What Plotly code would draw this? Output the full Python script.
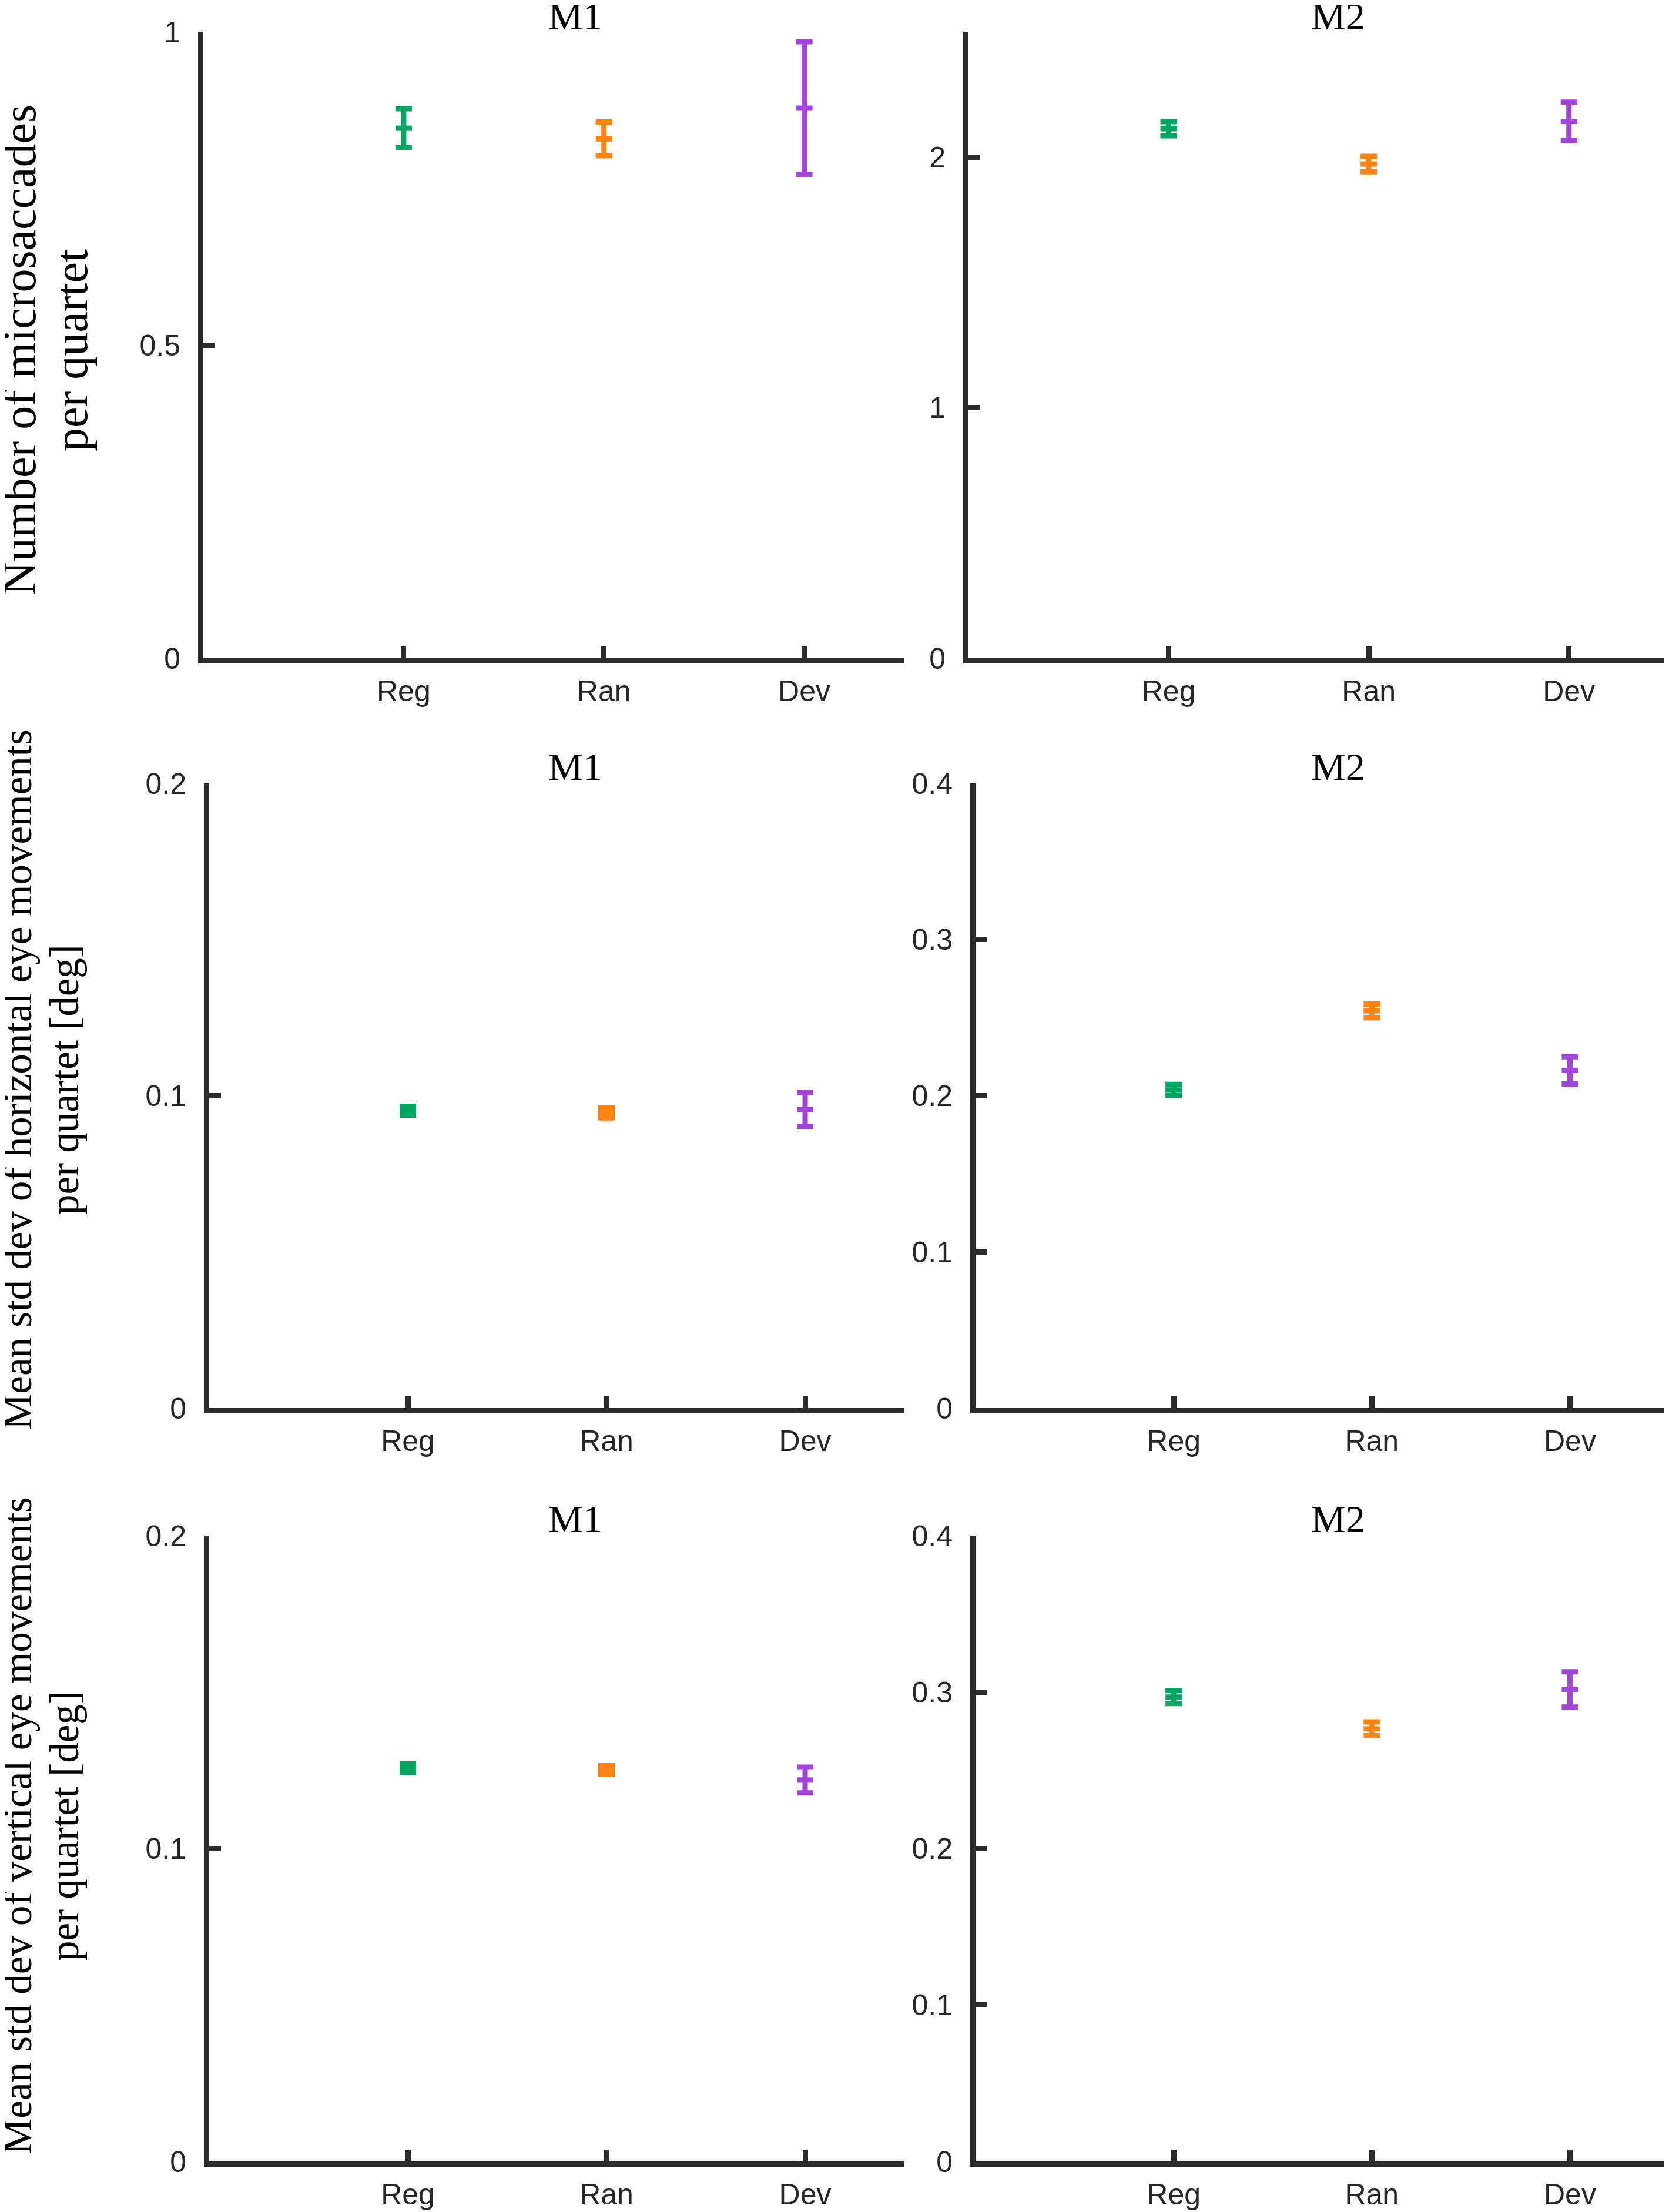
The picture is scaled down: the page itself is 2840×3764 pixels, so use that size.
import plotly.graph_objects as go
from plotly.subplots import make_subplots

W, H = 2840, 3764
PAGE_OFFSET_Y = 8  # default body margin of the html page

CONDITIONS = ['Reg', 'Ran', 'Dev']
COND_X = [1, 2, 3]
COLORS = ['#00a55f', '#ff8412', '#a044dc']

# microsaccades per quartet
msacc_m1_mean = [0.846, 0.829, 0.878]
msacc_m1_err = [0.031, 0.027, 0.106]
msacc_m2_mean = [2.113, 1.972, 2.142]
msacc_m2_err = [0.028, 0.031, 0.077]

# std dev of horizontal eye movements [deg]
horiz_m1_mean = [0.0952, 0.0945, 0.0956]
horiz_m1_err = [0.0014, 0.0016, 0.0054]
horiz_m2_mean = [0.2037, 0.2543, 0.2162]
horiz_m2_err = [0.0035, 0.0044, 0.0087]

# std dev of vertical eye movements [deg]
vert_m1_mean = [0.1257, 0.1251, 0.1219]
vert_m1_err = [0.0014, 0.0014, 0.0041]
vert_m2_mean = [0.2968, 0.2765, 0.3017]
vert_m2_err = [0.0041, 0.0044, 0.0113]

msacc_m1_ticks = [0, 0.5, 1]
msacc_m2_ticks = [0, 1, 2]
std_m1_ticks = [0, 0.1, 0.2]
std_m2_ticks = [0, 0.1, 0.2, 0.3, 0.4]

ylabels = [
    ['Number of microsaccades', 'per quartet'],
    ['Mean std dev of horizontal eye movements', 'per quartet [deg]'],
    ['Mean std dev of vertical eye movements', 'per quartet [deg]'],
]

panels = [
    # row, col, means, errs, yrange, ticks
    (1, 1, msacc_m1_mean, msacc_m1_err, [0, 1], msacc_m1_ticks),
    (1, 2, msacc_m2_mean, msacc_m2_err, [0, 2.5], msacc_m2_ticks),
    (2, 1, horiz_m1_mean, horiz_m1_err, [0, 0.2], std_m1_ticks),
    (2, 2, horiz_m2_mean, horiz_m2_err, [0, 0.4], std_m2_ticks),
    (3, 1, vert_m1_mean, vert_m1_err, [0, 0.2], std_m1_ticks),
    (3, 2, vert_m2_mean, vert_m2_err, [0, 0.4], std_m2_ticks),
]

# pixel layout (screen px) of the axes boxes
col_px = {
    (1, 1): (338, 1531), (1, 2): (1640, 2832),
    (2, 1): (348, 1531), (2, 2): (1652, 2832),
    (3, 1): (348, 1531), (3, 2): (1652, 2832),
}
row_px = {1: (54, 1120), 2: (1333, 2396), 3: (2613, 3678)}
title_bottom_px = {1: 66, 2: 1343, 3: 2623}
title_x_px = {1: 971, 2: 2269}
ylab_x_px = {1: (25, 113), 2: (22, 102), 3: (22, 102)}
ylab_y_px = {1: 596, 2: 1837, 3: 3107}
ylab_size = {1: 80, 2: 69, 3: 69}


def px_x(p):
    return p / W


def px_y(p):
    return 1 - (p - PAGE_OFFSET_Y) / H


AXIS_COLOR = '#2b2b2b'
TICK_FONT = dict(family='Liberation Sans Narrow, Arial Narrow, Liberation Sans, Arial', size=50, color='#262626')
SERIF = 'Liberation Serif, Times New Roman, serif'

fig = make_subplots(rows=3, cols=2)

for row, col, means, errs, yrange, ticks in panels:
    for i in range(len(CONDITIONS)):
        fig.add_trace(
            go.Scatter(
                x=[COND_X[i]],
                y=[means[i]],
                mode='markers',
                marker=dict(symbol='line-ew', size=20, color=COLORS[i],
                            line=dict(width=9, color=COLORS[i])),
                error_y=dict(type='data', array=[errs[i]], visible=True,
                             color=COLORS[i], thickness=9, width=14),
                showlegend=False,
                hoverinfo='skip'
            ),
            row=row, col=col
        )

    left, right = col_px[(row, col)]
    top, bottom = row_px[row]
    fig.update_xaxes(
        domain=[px_x(left), px_x(right)],
        range=[0, 3.5],
        tickvals=COND_X, ticktext=CONDITIONS,
        showline=True, linecolor=AXIS_COLOR, linewidth=9,
        ticks='inside', ticklen=20, tickwidth=9, tickcolor=AXIS_COLOR,
        ticklabelstandoff=4,
        tickfont=TICK_FONT,
        showgrid=False, zeroline=False,
        row=row, col=col
    )
    fig.update_yaxes(
        domain=[px_y(bottom), px_y(top)],
        range=yrange,
        tickvals=ticks, ticktext=[f'{t:g}' for t in ticks],
        showline=True, linecolor=AXIS_COLOR, linewidth=9,
        ticks='inside', ticklen=20, tickwidth=9, tickcolor=AXIS_COLOR,
        ticklabelstandoff=20,
        tickfont=TICK_FONT,
        showgrid=False, zeroline=False,
        row=row, col=col
    )

    fig.add_annotation(
        text=f'M{col}', xref='paper', yref='paper',
        x=px_x(title_x_px[col]), y=px_y(title_bottom_px[row]),
        xanchor='center', yanchor='bottom', showarrow=False,
        font=dict(family=SERIF, size=66, color='black')
    )

for r, lines in enumerate(ylabels, start=1):
    for k, line in enumerate(lines):
        fig.add_annotation(
            text=line, xref='paper', yref='paper',
            x=px_x(ylab_x_px[r][k]), y=px_y(ylab_y_px[r]),
            xanchor='center', yanchor='middle', textangle=-90, showarrow=False,
            font=dict(family=SERIF, size=ylab_size[r], color='black')
        )

fig.update_layout(
    width=W, height=H,
    margin=dict(l=0, r=0, t=0, b=0, pad=0, autoexpand=False),
    paper_bgcolor='white', plot_bgcolor='white',
    showlegend=False
)

fig.write_html('out.html')
